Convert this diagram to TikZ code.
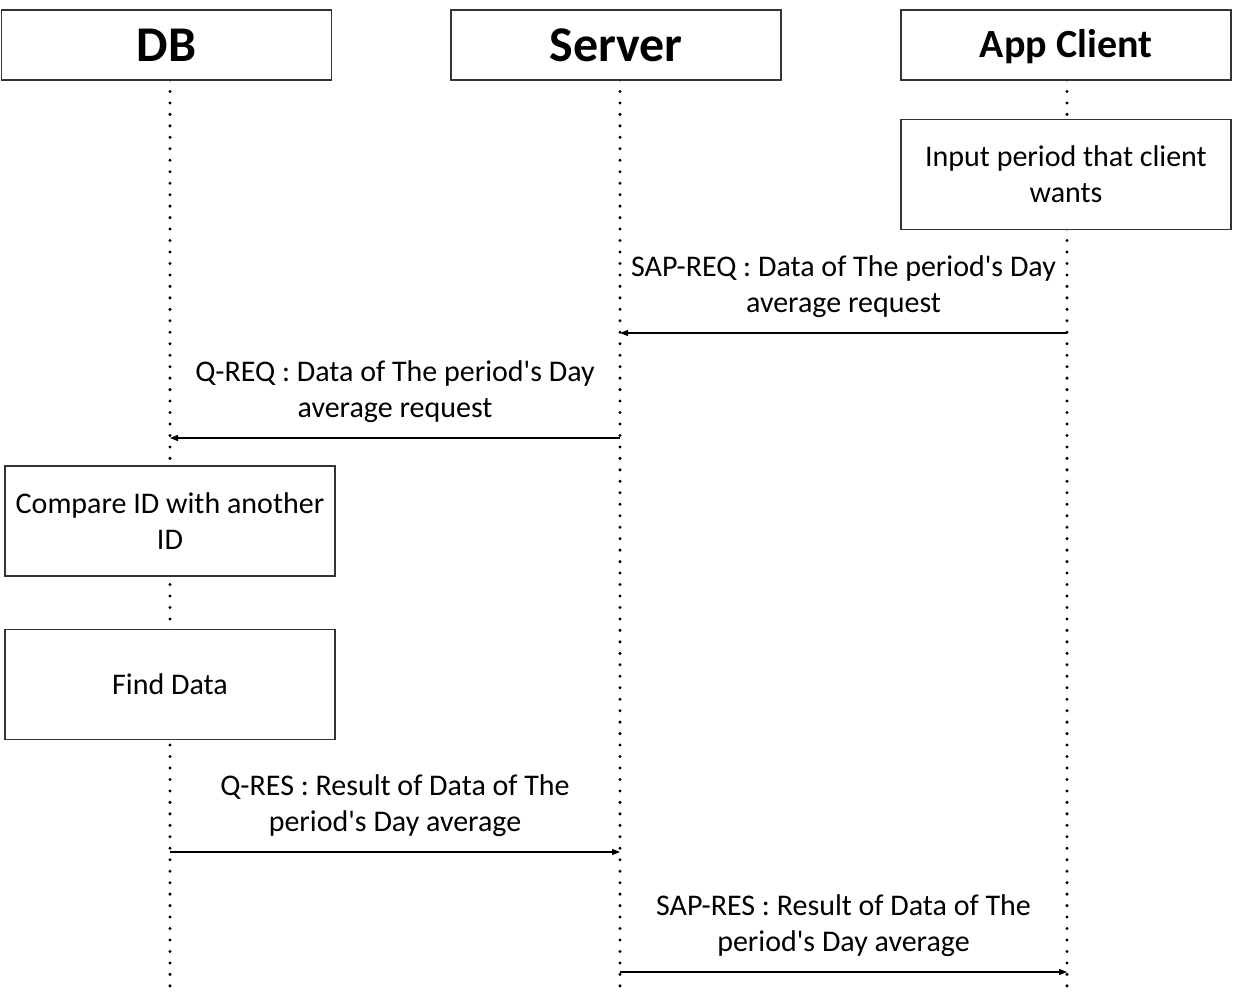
\documentclass[tikz,border=0pt]{standalone}
\usepackage{fontspec}
\setmainfont{Carlito}[Ligatures=TeXOff]
\usetikzlibrary{arrows.meta, positioning}

\begin{document}
\begin{tikzpicture}[x=0.75pt, y=-0.75pt,
		head/.style={draw=black!80, line width=0.9pt, fill=white, minimum width=247.5pt, minimum height=52.5pt, inner sep=0pt, text height=24.2pt, text depth=0pt, font=\fontsize{37.5}{40}\selectfont\bfseries},
		act/.style={draw=black!80, line width=0.9pt, fill=white, minimum width=247.5pt, minimum height=82.5pt, align=center, inner sep=0pt, font=\fontsize{22.5}{27}\selectfont},
		life/.style={line width=2.5pt, line cap=round, dash pattern=on 0pt off 8.6pt},
		msg/.style={line width=0.8pt, -{Triangle[length=6pt,width=4.5pt]}},
		lbl/.style={font=\fontsize{22.5}{27}\selectfont, align=center, above=7.5pt}]
	\useasboundingbox (0,0) rectangle (1233,1003);
	\coordinate (bottom) at (0,995);
	\coordinate (m1) at (0,333);
	\coordinate (m2) at (0,438);
	\coordinate (m3) at (0,852);
	\coordinate (m4) at (0,972);
	
	% lifelines
	\coordinate (dbTop) at (170,80);
	\coordinate (srvTop) at (620,80);
	\coordinate (cliTop) at (1067,80);
	\draw[life] (dbTop) -- (dbTop |- bottom);
	\draw[life] (srvTop) -- (srvTop |- bottom);
	\draw[life] (cliTop) -- (cliTop |- bottom);
	
	% actors
	\node[head] (db) at (166.5,45) {DB};
	\node[head] (server) at (616,45) {Server};
	\node[head, text height=19.4pt, font=\fontsize{30}{34}\selectfont\bfseries] (client) at (1066,45) {App Client};
	
	% activities
	\node[act, below=28.5pt of client] (input) {Input period that client\\wants};
	\node[act] (compare) at (170,521) {Compare ID with another\\ID};
	\node[act, below=39pt of compare] (find) {Find Data};
	
	% messages
	\draw[msg] (cliTop |- m1) -- node[lbl] {SAP-REQ : Data of The period's Day\\average request} (srvTop |- m1);
	\draw[msg] (srvTop |- m2) -- node[lbl] {Q-REQ : Data of The period's Day\\average request} (dbTop |- m2);
	\draw[msg] (dbTop |- m3) -- node[lbl] {Q-RES : Result of Data of The\\period's Day average} (srvTop |- m3);
	\draw[msg] (srvTop |- m4) -- node[lbl] {SAP-RES : Result of Data of The\\period's Day average} (cliTop |- m4);
\end{tikzpicture}
\end{document}
